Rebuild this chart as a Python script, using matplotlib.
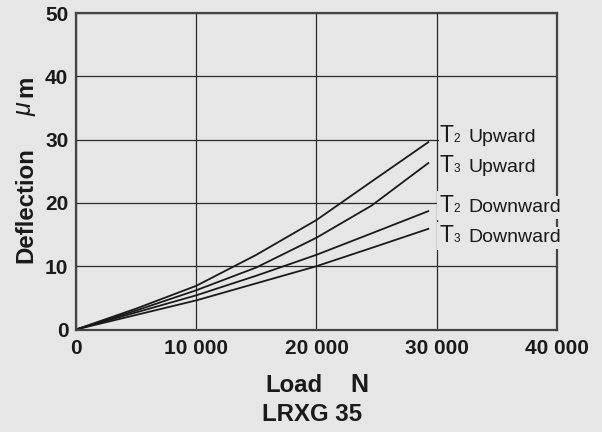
#! /usr/bin/env python3

import matplotlib
matplotlib.use("Agg")
import matplotlib.pyplot as plt
import matplotlib.transforms as mtransforms
from matplotlib.patches import Rectangle

# load in N (shared by all curves)
load = [0, 5000, 10000, 15000, 20000, 24600, 29300]

# deflection in um
t2_up = [0, 3.3, 6.9, 11.8, 17.3, 23.4, 29.6]
t3_up = [0, 3.0, 6.2, 9.8, 14.5, 19.6, 26.3]
t2_down = [0, 2.7, 5.4, 8.5, 11.8, 15.2, 18.7]
t3_down = [0, 2.3, 4.6, 7.3, 10.0, 12.9, 15.9]

series = [t2_up, t3_up, t2_down, t3_down]

# labels at the right end: (big letter, small digit, word, baseline y)
label_T = ["T", "T", "T", "T"]
label_num = ["2", "3", "2", "3"]
label_word = ["Upward", "Upward", "Downward", "Downward"]
label_y = [29.6, 24.9, 18.55, 13.75]
label_x = 30240

xticks = [0, 10000, 20000, 30000, 40000]
xtick_labels = ["0", "10 000", "20 000", "30 000", "40 000"]
yticks = [0, 10, 20, 30, 40, 50]
ytick_labels = ["0", "10", "20", "30", "40", "50"]

BG = "#e6e6e6"
INK = "#1a1a1a"
W, H = 602, 432


def fx(px):
	return px / W


def fy(py):
	return 1 - py / H


def main():
	plt.rcParams['font.family'] = ['Liberation Sans', 'DejaVu Sans']

	fig = plt.figure(figsize=(W / 100, H / 100), dpi=100, facecolor=BG)
	ax = fig.add_axes([fx(76), fy(329.5), (557 - 76) / W, (329.5 - 13) / H])
	ax.set_facecolor(BG)

	ax.set_xlim(0, 40000)
	ax.set_ylim(0, 50)
	ax.set_xticks(xticks)
	ax.set_xticklabels(xtick_labels)
	ax.set_yticks(yticks)
	ax.set_yticklabels(ytick_labels)
	ax.tick_params(axis='both', length=0, labelsize=15, colors=INK)
	ax.tick_params(axis='x', pad=7)
	ax.tick_params(axis='y', pad=5.5)
	for lab in ax.get_xticklabels() + ax.get_yticklabels():
		lab.set_fontweight('bold')

	ax.set_axisbelow(True)
	ax.grid(True, color='#2a2a2a', linewidth=0.9)
	for sp in ax.spines.values():
		sp.set_color('#444444')
		sp.set_linewidth(1.6)

	# hide the grid behind the labels
	ax.add_patch(Rectangle((30200, 12.5), 9800, 18.5, facecolor=BG,
		edgecolor='none', zorder=1))

	for ys in series:
		ax.plot(load, ys, color=INK, linewidth=1.3, zorder=2)

	for i in range(0, len(series)):
		boxed = label_word[i] == "Downward"
		bb = dict(facecolor=BG, edgecolor='none', pad=2) if boxed else None
		ax.text(label_x, label_y[i], label_T[i], fontsize=16.5, va='baseline',
			ha='left', color=INK, zorder=4, bbox=bb)
		off = mtransforms.offset_copy(ax.transData, fig=fig, x=10, y=0, units='points')
		ax.text(label_x, label_y[i], label_num[i], fontsize=8.5, va='baseline',
			ha='left', color=INK, transform=off, zorder=4, bbox=bb)
		off = mtransforms.offset_copy(ax.transData, fig=fig, x=21, y=0, units='points')
		ax.text(label_x, label_y[i], label_word[i], fontsize=14, va='baseline',
			ha='left', color=INK, transform=off, zorder=4, bbox=bb)

	# y label, split so that mu can be italic
	fig.text(fx(32), fy(205.5), "Deflection", rotation=90, rotation_mode='anchor',
		ha='center', va='baseline', fontsize=17.3, fontweight='bold', color=INK)
	fig.text(fx(32), fy(109), "\u03bc", rotation=90, rotation_mode='anchor',
		ha='center', va='baseline', fontsize=18, style='italic', color=INK)
	fig.text(fx(32), fy(86), "m", rotation=90, rotation_mode='anchor',
		ha='center', va='baseline', fontsize=17.3, fontweight='bold', color=INK)

	# x label and caption
	fig.text(fx(293.5), fy(391.7), "Load", ha='center', va='baseline',
		fontsize=17.2, fontweight='bold', color=INK)
	fig.text(fx(359), fy(392.5), "N", ha='center', va='baseline',
		fontsize=18, fontweight='bold', color=INK)
	fig.text(fx(312), fy(420.7), "LRXG 35", ha='center', va='baseline',
		fontsize=17.3, fontweight='bold', color=INK)

	fig.savefig("out.png", dpi=100, facecolor=BG)


if __name__ == "__main__":
	main()
